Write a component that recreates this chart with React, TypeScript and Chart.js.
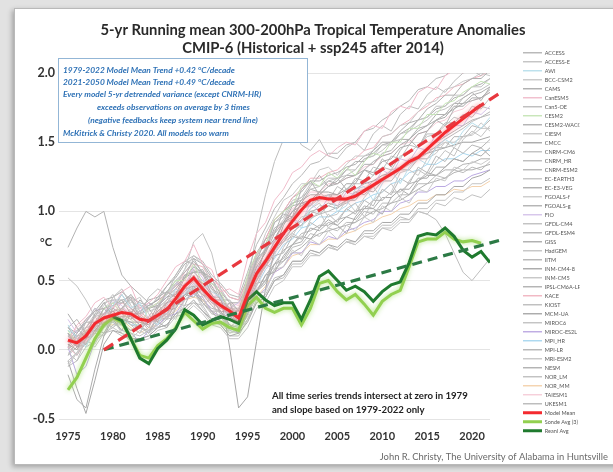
import { useEffect, useRef } from 'react';
import { Chart, registerables } from 'chart.js';

Chart.register(...registerables);

// ---------------- data ----------------
const MODEL_START = 1975;
const MODEL_NAMES = [
  'ACCESS', 'ACCESS-E', 'AWI', 'BCC-CSM2', 'CAMS', 'CanESM5', 'Can5-OE', 'CESM2', 'CESM2-WACCM', 'CIESM',
  'CMCC', 'CNRM-CM6', 'CNRM_HR', 'CNRM-ESM2', 'EC-EARTH3', 'EC-E3-VEG', 'FGOALS-f', 'FGOALS-g', 'FIO', 'GFDL-CM4',
  'GFDL-ESM4', 'GISS', 'HadGEM', 'IITM', 'INM-CM4-8', 'INM-CM5', 'IPSL-CM6A-LR', 'KACE', 'KIOST', 'MCM-UA',
  'MIROC6', 'MIROC-ES2L', 'MPI_HR', 'MPI-LR', 'MRI-ESM2', 'NESM', 'NOR_LM', 'NOR_MM', 'TAIESM1', 'UKESM1',
];
// 5-yr running means, one value per year 1975..2022
const MODEL_RUNS: number[][] = [
  [0.12,0.02,0.10,0.26,0.34,0.24,0.30,0.38,0.22,0.16,0.30,0.42,0.38,0.52,0.66,0.55,0.40,0.26,0.34,0.18,0.44,0.66,0.72,0.92,0.98,0.96,1.16,1.22,1.12,1.18,1.24,1.16,1.22,1.30,1.26,1.38,1.32,1.44,1.52,1.46,1.58,1.66,1.62,1.74,1.82,1.86,1.80,1.90],
  [0.52,0.46,0.36,0.24,0.32,0.40,0.26,0.18,0.12,0.24,0.34,0.22,0.30,0.46,0.42,0.32,0.38,0.18,0.22,0.30,0.36,0.52,0.62,0.58,0.74,0.84,0.80,0.94,1.00,0.88,0.94,1.02,1.06,0.96,1.08,1.14,1.20,1.10,1.22,1.30,1.26,1.36,1.44,1.40,1.52,1.58,1.54,1.62],
  [0.18,0.08,0.02,0.16,0.24,0.32,0.40,0.30,0.34,0.22,0.18,0.32,0.44,0.40,0.52,0.50,0.42,0.38,0.24,0.16,0.34,0.58,0.66,0.68,0.86,0.94,0.88,1.02,1.08,1.12,1.00,1.04,1.16,1.18,1.08,1.20,1.30,1.20,1.32,1.38,1.34,1.46,1.52,1.48,1.58,1.64,1.60,1.68],
  [-0.12,-0.02,0.10,0.24,0.16,0.20,0.30,0.34,0.38,0.26,0.16,0.24,0.38,0.46,0.54,0.38,0.26,0.30,0.34,0.22,0.30,0.46,0.62,0.76,0.78,0.82,0.94,1.02,1.06,0.96,0.98,1.08,1.00,1.10,1.18,1.08,1.14,1.28,1.30,1.26,1.38,1.42,1.50,1.46,1.54,1.56,1.64,1.58],
  [0.26,0.16,0.08,0.18,0.30,0.22,0.14,0.26,0.36,0.30,0.20,0.16,0.30,0.40,0.38,0.46,0.36,0.28,0.18,0.12,0.26,0.42,0.54,0.56,0.68,0.76,0.82,0.80,0.88,0.94,0.90,0.84,0.96,1.04,1.02,0.98,1.10,1.16,1.12,1.22,1.28,1.26,1.32,1.38,1.36,1.42,1.46,1.40],
  [0.06,0.18,0.24,0.34,0.38,0.30,0.42,0.46,0.30,0.34,0.40,0.50,0.60,0.64,0.76,0.62,0.58,0.42,0.44,0.40,0.66,0.84,0.92,1.08,1.16,1.28,1.32,1.40,1.44,1.40,1.46,1.50,1.48,1.58,1.62,1.60,1.72,1.76,1.74,1.86,1.90,1.88,1.98,2.02,2.00,2.08,2.12,2.10],
  [-0.04,0.06,0.20,0.30,0.24,0.38,0.44,0.32,0.26,0.38,0.44,0.40,0.54,0.64,0.62,0.54,0.52,0.36,0.30,0.22,0.48,0.84,1.12,1.36,1.52,1.60,1.48,1.44,1.52,1.40,1.38,1.46,1.50,1.44,1.56,1.62,1.58,1.70,1.76,1.74,1.84,1.90,1.86,1.94,2.00,2.02,1.98,2.06],
  [0.14,0.04,0.14,0.16,0.30,0.34,0.26,0.22,0.16,0.30,0.34,0.40,0.50,0.50,0.62,0.48,0.48,0.42,0.28,0.24,0.54,0.70,0.76,0.94,1.00,1.04,1.18,1.22,1.18,1.28,1.24,1.32,1.26,1.36,1.42,1.40,1.50,1.50,1.60,1.60,1.70,1.70,1.78,1.80,1.86,1.90,1.94,1.92],
  [0.02,0.12,0.20,0.20,0.18,0.30,0.40,0.30,0.24,0.20,0.32,0.38,0.40,0.54,0.56,0.58,0.46,0.36,0.36,0.28,0.48,0.64,0.80,0.84,1.00,1.06,1.08,1.18,1.26,1.18,1.22,1.30,1.36,1.36,1.44,1.50,1.50,1.58,1.64,1.66,1.74,1.78,1.84,1.84,1.92,1.96,1.96,2.02],
  [0.10,0.10,0.02,0.20,0.30,0.36,0.28,0.40,0.28,0.22,0.26,0.36,0.48,0.58,0.68,0.62,0.48,0.44,0.34,0.28,0.50,0.66,0.84,0.96,1.08,1.12,1.20,1.20,1.30,1.32,1.26,1.34,1.40,1.40,1.44,1.54,1.56,1.62,1.64,1.72,1.78,1.80,1.88,1.90,1.94,1.96,2.00,1.98],
  [0.04,0.00,0.12,0.14,0.22,0.28,0.22,0.20,0.20,0.18,0.28,0.34,0.36,0.46,0.54,0.44,0.36,0.36,0.24,0.20,0.44,0.56,0.72,0.80,0.92,0.96,1.06,1.08,1.14,1.14,1.12,1.20,1.20,1.30,1.28,1.36,1.38,1.46,1.48,1.56,1.58,1.66,1.68,1.76,1.76,1.82,1.82,1.88],
  [-0.02,-0.08,0.08,0.12,0.24,0.22,0.18,0.28,0.22,0.14,0.24,0.30,0.36,0.42,0.50,0.42,0.34,0.30,0.28,0.24,0.38,0.56,0.66,0.78,0.84,0.96,1.02,1.04,1.10,1.12,1.08,1.16,1.20,1.20,1.26,1.32,1.30,1.40,1.42,1.48,1.54,1.56,1.62,1.68,1.66,1.76,1.74,1.82],
  [0.05,0.06,0.10,0.16,0.20,0.22,0.24,0.24,0.22,0.22,0.25,0.29,0.34,0.40,0.44,0.40,0.36,0.32,0.30,0.28,0.40,0.50,0.60,0.70,0.78,0.85,0.90,0.95,0.98,1.00,1.03,1.06,1.10,1.14,1.18,1.22,1.26,1.30,1.34,1.38,1.42,1.47,1.52,1.56,1.60,1.65,1.68,1.70],
  [0.16,0.08,0.04,0.14,0.16,0.24,0.30,0.24,0.18,0.20,0.22,0.30,0.34,0.40,0.46,0.40,0.32,0.26,0.24,0.20,0.34,0.50,0.62,0.72,0.80,0.88,0.94,1.00,1.02,1.06,1.04,1.08,1.14,1.12,1.18,1.22,1.28,1.30,1.36,1.40,1.46,1.50,1.54,1.58,1.62,1.66,1.68,1.72],
  [0.00,0.10,0.12,0.24,0.26,0.28,0.30,0.36,0.26,0.28,0.30,0.42,0.48,0.54,0.56,0.50,0.44,0.36,0.30,0.30,0.44,0.62,0.74,0.86,0.94,1.06,1.10,1.16,1.18,1.22,1.24,1.26,1.30,1.38,1.40,1.44,1.50,1.52,1.58,1.62,1.66,1.72,1.74,1.78,1.82,1.86,1.88,1.92],
  [0.12,0.02,0.12,0.18,0.26,0.32,0.36,0.26,0.26,0.30,0.32,0.38,0.44,0.52,0.60,0.56,0.44,0.40,0.28,0.28,0.42,0.60,0.70,0.84,0.92,1.00,1.08,1.12,1.12,1.18,1.20,1.24,1.26,1.30,1.36,1.40,1.42,1.48,1.52,1.58,1.62,1.66,1.70,1.74,1.78,1.80,1.82,1.86],
  [-0.10,-0.02,0.06,0.04,0.16,0.22,0.12,0.08,0.14,0.10,0.20,0.26,0.22,0.36,0.42,0.30,0.22,0.26,0.12,0.16,0.24,0.40,0.42,0.58,0.60,0.72,0.68,0.80,0.76,0.86,0.80,0.90,0.86,0.96,0.92,1.04,1.00,1.10,1.06,1.16,1.14,1.24,1.22,1.32,1.30,1.36,1.34,1.38],
  [0.74,0.88,1.00,0.96,1.00,0.74,0.54,0.46,0.40,0.34,0.30,0.36,0.40,0.46,0.52,0.48,0.40,0.32,0.26,0.22,0.32,0.42,0.50,0.58,0.64,0.70,0.74,0.80,0.84,0.86,0.88,0.90,0.92,0.96,1.00,1.02,1.06,1.08,1.12,1.16,1.20,1.22,1.24,1.28,1.30,1.30,1.32,1.34],
  [0.22,0.12,0.20,0.30,0.26,0.36,0.32,0.24,0.28,0.34,0.30,0.40,0.48,0.46,0.60,0.52,0.38,0.40,0.30,0.34,0.42,0.60,0.62,0.80,0.82,0.94,0.92,1.06,1.00,1.10,1.04,1.14,1.12,1.22,1.18,1.30,1.26,1.38,1.36,1.46,1.44,1.56,1.54,1.62,1.62,1.72,1.70,1.76],
  [0.04,-0.04,0.08,0.18,0.16,0.22,0.28,0.24,0.18,0.22,0.20,0.34,0.42,0.44,0.58,0.46,0.38,0.38,0.26,0.20,0.46,0.54,0.74,0.78,0.92,0.94,1.06,1.04,1.14,1.08,1.18,1.14,1.24,1.22,1.32,1.30,1.40,1.38,1.48,1.46,1.56,1.56,1.64,1.64,1.70,1.68,1.76,1.74],
  [0.10,0.02,0.04,0.14,0.12,0.24,0.20,0.14,0.18,0.12,0.24,0.22,0.34,0.32,0.46,0.34,0.28,0.28,0.16,0.22,0.30,0.48,0.50,0.68,0.70,0.82,0.80,0.92,0.88,0.98,0.92,1.02,0.98,1.08,1.04,1.16,1.12,1.24,1.20,1.32,1.28,1.40,1.36,1.46,1.42,1.48,1.46,1.52],
  [-0.18,-0.36,-0.42,-0.14,0.10,0.22,0.18,0.14,0.16,0.20,0.22,0.28,0.30,0.40,0.42,0.34,0.28,0.20,0.18,0.12,0.28,0.42,0.48,0.62,0.66,0.76,0.78,0.88,0.86,0.92,0.90,0.96,0.94,1.02,1.02,1.10,1.10,1.16,1.16,1.24,1.24,1.32,1.32,1.38,1.36,1.42,1.40,1.46],
  [0.10,0.14,0.16,0.26,0.26,0.34,0.34,0.36,0.28,0.30,0.32,0.42,0.46,0.58,0.78,0.84,0.70,0.44,0.34,0.34,0.48,0.68,0.76,0.92,0.96,1.08,1.10,1.20,1.18,1.24,1.24,1.30,1.30,1.38,1.40,1.48,1.48,1.56,1.58,1.66,1.68,1.76,1.76,1.84,1.84,1.90,1.90,1.96],
  [0.16,0.22,0.12,0.20,0.24,0.24,0.18,0.28,0.22,0.22,0.22,0.30,0.34,0.44,0.46,0.46,0.36,0.32,0.24,0.24,0.36,0.54,0.60,0.74,0.78,0.88,0.90,1.00,0.98,1.04,1.02,1.08,1.08,1.16,1.14,1.22,1.22,1.30,1.30,1.38,1.38,1.46,1.46,1.54,1.54,1.62,1.60,1.66],
  [-0.08,-0.28,-0.46,-0.22,0.04,0.14,0.12,0.08,0.08,0.10,0.16,0.18,0.26,0.30,0.36,0.28,0.22,0.18,0.10,0.12,0.20,0.34,0.38,0.50,0.54,0.64,0.64,0.72,0.70,0.76,0.74,0.80,0.78,0.86,0.86,0.92,0.92,0.98,0.98,1.06,1.06,1.12,1.12,1.18,1.18,1.24,1.26,1.30],
  [0.00,0.06,0.08,0.02,0.12,0.16,0.12,0.06,0.06,0.08,0.14,0.16,0.24,0.26,0.32,0.26,0.18,0.16,0.08,0.08,0.16,0.30,0.34,0.46,0.50,0.60,0.60,0.68,0.68,0.74,0.72,0.78,0.76,0.82,0.82,0.88,0.88,0.94,0.94,1.02,1.02,1.08,1.08,1.14,1.14,1.20,1.20,1.24],
  [0.06,0.14,0.20,0.28,0.30,0.32,0.34,0.40,0.32,0.30,0.38,0.42,0.50,0.56,0.64,0.56,0.48,0.42,0.34,0.34,0.46,0.64,0.72,0.88,0.92,1.04,1.06,1.16,1.14,1.22,1.20,1.26,1.26,1.34,1.34,1.42,1.44,1.52,1.52,1.60,1.62,1.70,1.70,1.78,1.78,1.84,1.86,1.90],
  [0.02,-0.04,0.06,0.12,0.24,0.26,0.34,0.30,0.24,0.30,0.34,0.42,0.46,0.56,0.62,0.60,0.50,0.46,0.38,0.36,0.50,0.68,0.80,0.94,1.00,1.10,1.16,1.24,1.24,1.28,1.30,1.36,1.38,1.44,1.46,1.54,1.56,1.62,1.66,1.72,1.76,1.82,1.84,1.90,1.92,1.96,1.98,2.02],
  [0.12,0.06,0.14,0.16,0.12,0.22,0.24,0.18,0.16,0.12,0.20,0.24,0.32,0.36,0.42,0.34,0.26,0.24,0.16,0.18,0.28,0.44,0.50,0.62,0.64,0.74,0.76,0.84,0.82,0.88,0.86,0.92,0.92,1.00,0.98,1.06,1.06,1.12,1.12,1.20,1.20,1.26,1.24,1.30,1.28,1.32,1.30,1.36],
  [0.10,0.04,0.12,0.20,0.26,0.30,0.26,0.22,0.28,0.32,0.36,0.40,0.46,0.52,0.56,0.56,0.52,0.40,0.02,-0.42,-0.34,0.06,0.44,0.72,0.90,1.00,1.04,1.08,1.08,1.12,1.12,1.16,1.16,1.20,1.22,1.26,1.28,1.32,1.36,1.40,1.42,1.44,1.46,1.48,1.50,1.50,1.52,1.54],
  [-0.08,-0.02,0.04,0.12,0.10,0.18,0.18,0.12,0.10,0.14,0.16,0.22,0.24,0.32,0.34,0.32,0.22,0.20,0.12,0.14,0.22,0.36,0.40,0.52,0.54,0.64,0.64,0.72,0.70,0.76,0.72,0.78,0.76,0.82,0.80,0.88,0.86,0.92,0.92,1.00,0.98,1.06,1.04,1.10,1.08,1.12,1.10,1.16],
  [0.02,-0.18,-0.12,0.06,0.18,0.20,0.14,0.12,0.06,0.14,0.18,0.24,0.26,0.36,0.40,0.38,0.28,0.24,0.14,0.12,0.26,0.38,0.44,0.56,0.60,0.70,0.70,0.78,0.76,0.82,0.80,0.86,0.88,0.92,0.94,1.00,1.00,1.06,1.08,1.14,1.14,1.18,1.18,1.22,1.22,1.26,1.28,1.30],
  [0.14,0.10,0.04,0.12,0.18,0.26,0.22,0.18,0.18,0.20,0.26,0.26,0.36,0.40,0.48,0.42,0.34,0.32,0.22,0.20,0.36,0.46,0.58,0.66,0.76,0.80,0.88,0.90,0.96,0.96,1.00,1.00,1.06,1.08,1.12,1.14,1.20,1.22,1.28,1.30,1.34,1.34,1.38,1.38,1.42,1.40,1.44,1.44],
  [-0.04,0.02,0.08,0.12,0.20,0.16,0.22,0.20,0.16,0.14,0.22,0.26,0.34,0.38,0.44,0.36,0.30,0.28,0.18,0.16,0.32,0.42,0.54,0.62,0.72,0.76,0.84,0.86,0.90,0.90,0.94,0.96,1.00,1.02,1.08,1.08,1.14,1.14,1.20,1.22,1.26,1.26,1.30,1.30,1.34,1.35,1.38,1.38],
  [0.06,0.10,0.16,0.18,0.24,0.26,0.22,0.30,0.26,0.20,0.26,0.34,0.38,0.48,0.50,0.44,0.36,0.34,0.26,0.24,0.42,0.52,0.66,0.74,0.84,0.88,0.96,0.98,1.04,1.04,1.08,1.08,1.14,1.16,1.22,1.24,1.30,1.32,1.38,1.40,1.44,1.46,1.50,1.50,1.54,1.55,1.60,1.60],
  [0.16,0.12,0.22,0.28,0.36,0.38,0.42,0.36,0.30,0.36,0.38,0.46,0.52,0.62,0.66,0.62,0.52,0.46,0.38,0.36,0.52,0.70,0.80,0.94,1.00,1.10,1.14,1.22,1.22,1.26,1.28,1.32,1.34,1.40,1.42,1.48,1.50,1.56,1.60,1.66,1.68,1.74,1.76,1.82,1.84,1.90,1.92,1.96],
  [-0.12,-0.08,0.02,0.06,0.12,0.14,0.10,0.08,0.08,0.10,0.16,0.18,0.26,0.28,0.34,0.28,0.20,0.18,0.10,0.10,0.22,0.34,0.38,0.50,0.52,0.62,0.62,0.70,0.68,0.74,0.72,0.78,0.78,0.84,0.84,0.90,0.90,0.96,0.94,1.00,0.98,0.94,0.84,0.70,0.56,0.50,0.58,0.66],
  [0.04,0.00,0.08,0.12,0.18,0.18,0.22,0.16,0.12,0.16,0.18,0.24,0.28,0.36,0.38,0.36,0.28,0.24,0.18,0.16,0.26,0.38,0.46,0.56,0.60,0.68,0.70,0.76,0.76,0.80,0.80,0.84,0.86,0.90,0.92,0.96,0.98,1.02,1.04,1.08,1.08,1.12,1.12,1.16,1.15,1.18,1.18,1.22],
  [0.08,0.16,0.22,0.28,0.30,0.30,0.34,0.38,0.30,0.30,0.32,0.40,0.44,0.54,0.58,0.54,0.46,0.42,0.34,0.32,0.46,0.62,0.72,0.86,0.92,1.02,1.06,1.14,1.14,1.20,1.20,1.24,1.26,1.32,1.34,1.40,1.42,1.48,1.50,1.56,1.58,1.64,1.66,1.72,1.74,1.80,1.82,1.86],
  [0.12,0.06,0.16,0.24,0.34,0.36,0.36,0.38,0.34,0.32,0.36,0.46,0.54,0.64,0.68,0.64,0.54,0.48,0.40,0.38,0.56,0.76,0.88,1.02,1.10,1.20,1.26,1.34,1.36,1.42,1.42,1.48,1.50,1.58,1.60,1.66,1.70,1.76,1.80,1.88,1.90,1.96,1.98,2.04,2.04,2.08,2.08,2.12],
];
const MODEL_COLORS = [
  '#b4b4b4', '#c2c2c2', '#b9dfec', '#c8c8c8', '#adadad', '#f0bccb', '#bdbdbd', '#c6e5b6', '#b0b0b0', '#c9c9c9',
  '#a9a9a9', '#c0c0c0', '#bababa', '#b6b6b6', '#c4c4c4', '#aeaeae', '#cbcbcb', '#b2b2b2', '#d5c3ea', '#bfbfbf',
  '#b7b7b7', '#acacac', '#c3c3c3', '#b5b5b5', '#a8a8a8', '#c5c5c5', '#b1b1b1', '#f1b4c0', '#bcbcbc', '#a7a7a7',
  '#c1c1c1', '#bba9e2', '#a9d7ef', '#b3b3b3', '#c7c7c7', '#afafaf', '#bebebe', '#f4d2ad', '#f6cdd8', '#b8b8b8',
];

const MEAN_START = 1975;
const MODEL_MEAN = [
  0.07, 0.05, 0.10, 0.19, 0.23, 0.25, 0.27, 0.26, 0.22, 0.21,
  0.25, 0.29, 0.37, 0.46, 0.52, 0.44, 0.37, 0.32, 0.28, 0.23,
  0.40, 0.55, 0.64, 0.74, 0.84, 0.93, 1.01, 1.08, 1.10, 1.09,
  1.09, 1.09, 1.11, 1.15, 1.19, 1.23, 1.27, 1.31, 1.36, 1.39,
  1.45, 1.51, 1.57, 1.62, 1.67, 1.72, 1.77,
];
const SONDE_START = 1975;
const SONDE_AVG = [
  -0.29, -0.20, -0.06, 0.08, 0.18, 0.23, 0.20, 0.08, -0.04, -0.06,
  0.03, 0.08, 0.16, 0.27, 0.21, 0.15, 0.19, 0.20, 0.16, 0.14,
  0.32, 0.38, 0.30, 0.27, 0.30, 0.30, 0.18, 0.30, 0.48, 0.50,
  0.42, 0.36, 0.40, 0.33, 0.25, 0.35, 0.40, 0.43, 0.60, 0.78,
  0.80, 0.80, 0.85, 0.80, 0.78, 0.79, 0.77,
];
const REANL_START = 1980;
const REANL_AVG = [
  0.24, 0.21, 0.08, -0.06, -0.10, 0.01, 0.07, 0.15, 0.29, 0.25,
  0.18, 0.21, 0.24, 0.22, 0.19, 0.36, 0.42, 0.36, 0.32, 0.34,
  0.34, 0.22, 0.36, 0.53, 0.57, 0.50, 0.43, 0.46, 0.42, 0.35,
  0.42, 0.47, 0.49, 0.63, 0.82, 0.84, 0.83, 0.88, 0.82, 0.72,
  0.67, 0.71, 0.63,
];
const TREND_YEARS = [1979, 2023];
const MEAN_TREND = [0, 1.85];
const OBS_TREND = [0, 0.79];

const X_TICKS = [1975, 1980, 1985, 1990, 1995, 2000, 2005, 2010, 2015, 2020];
const Y_TICKS = [-0.5, 0, 0.5, 1, 1.5, 2];

const TITLE_LINES = [
  '5-yr Running mean 300-200hPa Tropical Temperature Anomalies',
  'CMIP-6 (Historical + ssp245 after 2014)',
];
const BOX_LINES = [
  '1979-2022 Model Mean Trend +0.42 °C/decade',
  '2021-2050 Model Mean Trend +0.49 °C/decade',
  'Every model 5-yr detrended variance (except CNRM-HR)',
  'exceeds observations on average by 3 times',
  '(negative feedbacks keep system near trend line)',
  'McKitrick & Christy 2020. All models too warm',
];
const NOTE_LINES = [
  'All time series trends intersect at zero in 1979',
  'and slope based on 1979-2022 only',
];
const CREDIT = 'John R. Christy, The University of Alabama in Huntsville';
const UNIT = '°C';

// ---------------- helpers ----------------
const series = (start: number, vals: number[]) => vals.map((v, i) => ({ x: start + i, y: v }));
const pairs = (xs: number[], ys: number[]) => xs.map((x, i) => ({ x, y: ys[i] }));

const FONT = 'Lato, "Open Sans", sans-serif';

const glowPlugin = {
  id: 'glow',
  beforeDatasetDraw(chart: any, args: any) {
    const ds = chart.data.datasets[args.index];
    if (ds.glowColor) {
      chart.ctx.save();
      chart.ctx.shadowColor = ds.glowColor;
      chart.ctx.shadowBlur = ds.glowBlur || 5;
    }
  },
  afterDatasetDraw(chart: any, args: any) {
    const ds = chart.data.datasets[args.index];
    if (ds.glowColor) chart.ctx.restore();
  },
};

const legendPlacer = {
  id: 'legendPlacer',
  afterLayout(chart: any) {
    const lg = chart.legend;
    if (!lg) return;
    const w = lg.width;
    const h = lg.height;
    lg.left = chart.chartArea.right + 29.5;
    lg.right = lg.left + w;
    lg.top = chart.chartArea.top - 26.5;
    lg.bottom = lg.top + h;
  },
};

const textPlugin = {
  id: 'texts',
  afterDatasetsDraw(chart: any) {
    const ctx = chart.ctx;
    ctx.save();
    ctx.fillStyle = '#ffffff';
    ctx.fillRect(58.5, 58.5, 249, 84);
    ctx.strokeStyle = '#93b6d6';
    ctx.lineWidth = 1;
    ctx.strokeRect(58.5, 58.5, 249, 84);
    ctx.fillStyle = '#2f72b6';
    ctx.font = `italic bold 8.4px ${FONT}`;
    ctx.textBaseline = 'middle';
    ctx.textAlign = 'left';
    const indent = [0, 0, 0, 34, 25, 0];
    const ys = [70, 82, 94.5, 107.5, 120.5, 133.5];
    BOX_LINES.forEach((t, i) => ctx.fillText(t, 63 + indent[i], ys[i]));
    ctx.restore();
  },
  afterDraw(chart: any) {
    const ctx = chart.ctx;
    ctx.save();
    ctx.textBaseline = 'middle';
    ctx.textAlign = 'center';
    ctx.fillStyle = '#2a2a2a';
    ctx.font = `bold 14.8px ${FONT}`;
    ctx.fillText(TITLE_LINES[0], 313, 30);
    ctx.fillText(TITLE_LINES[1], 313, 48);
    ctx.font = `bold 11px ${FONT}`;
    ctx.fillStyle = '#333';
    ctx.fillText(UNIT, 46, 242);
    ctx.textAlign = 'left';
    ctx.fillStyle = '#222';
    ctx.font = `bold 9.6px ${FONT}`;
    ctx.fillText(NOTE_LINES[0], 272, 396);
    ctx.fillText(NOTE_LINES[1], 272, 410);
    ctx.textAlign = 'right';
    ctx.fillStyle = '#6a6a6a';
    ctx.font = `9.4px ${FONT}`;
    ctx.fillText(CREDIT, 608, 457);
    ctx.restore();
  },
};

export default function App() {
  const ref = useRef<HTMLCanvasElement | null>(null);

  useEffect(() => {
    const canvas = ref.current;
    if (!canvas) return;

    const modelSets = MODEL_RUNS.map((vals, i) => ({
      label: MODEL_NAMES[i],
      data: series(MODEL_START, vals),
      borderColor: MODEL_COLORS[i],
      backgroundColor: MODEL_COLORS[i],
      borderWidth: 1,
      pointRadius: 0,
      order: 10,
    }));

    const datasets: any[] = [
      ...modelSets,
      {
        label: 'Model Mean',
        data: series(MEAN_START, MODEL_MEAN),
        borderColor: '#f42a2f',
        backgroundColor: '#f42a2f',
        borderWidth: 3,
        pointRadius: 0,
        order: 2,
        glowColor: 'rgba(255,120,130,0.9)',
        glowBlur: 5,
      },
      {
        label: 'Sonde Avg (3)',
        data: series(SONDE_START, SONDE_AVG),
        borderColor: '#92d050',
        backgroundColor: '#92d050',
        borderWidth: 3,
        pointRadius: 0,
        order: 4,
        glowColor: 'rgba(170,225,120,0.9)',
        glowBlur: 5,
      },
      {
        label: 'Reanl Avg',
        data: series(REANL_START, REANL_AVG),
        borderColor: '#1f7a2e',
        backgroundColor: '#1f7a2e',
        borderWidth: 3,
        pointRadius: 0,
        order: 3,
      },
      {
        label: 'Model Mean trend',
        isTrend: true,
        data: pairs(TREND_YEARS, MEAN_TREND),
        borderColor: '#e8383f',
        backgroundColor: '#e8383f',
        borderWidth: 3.2,
        borderDash: [11, 6],
        pointStyle: 'triangle',
        pointRadius: [0, 6.5],
        pointRotation: [0, 57],
        pointBackgroundColor: '#e8383f',
        pointBorderColor: '#e8383f',
        pointBorderWidth: 1,
        clip: false,
        order: 1,
      },
      {
        label: 'Obs trend',
        isTrend: true,
        data: pairs(TREND_YEARS, OBS_TREND),
        borderColor: '#2c7a45',
        backgroundColor: '#2c7a45',
        borderWidth: 3.2,
        borderDash: [10, 6],
        pointStyle: 'triangle',
        pointRadius: [0, 6.5],
        pointRotation: [0, 74.5],
        pointBackgroundColor: '#2c7a45',
        pointBorderColor: '#2c7a45',
        pointBorderWidth: 1,
        clip: false,
        order: 1,
      },
    ];

    const chart = new Chart(canvas, {
      type: 'line',
      data: { datasets },
      options: {
        animation: false,
        responsive: false,
        events: [],
        layout: { padding: { top: 73, left: 12, right: 63, bottom: 0 } },
        elements: { line: { tension: 0 }, point: { radius: 0, hoverRadius: 0 } },
        scales: {
          x: {
            type: 'linear',
            min: 1974,
            max: 2022,
            afterBuildTicks: (s: any) => {
              s.ticks = X_TICKS.map((v) => ({ value: v }));
            },
            afterFit: (s: any) => {
              s.height = 53;
            },
            ticks: {
              autoSkip: false,
              maxRotation: 0,
              padding: 11,
              color: '#333',
              font: { family: FONT, size: 11, weight: 'bold' },
              callback: (v: any) => String(v),
            },
            grid: { display: false, drawTicks: false },
            border: { display: false },
          },
          y: {
            type: 'linear',
            min: -0.5,
            max: 2,
            afterBuildTicks: (s: any) => {
              s.ticks = Y_TICKS.map((v) => ({ value: v }));
            },
            afterFit: (s: any) => {
              s.width = 47;
            },
            ticks: {
              padding: 4,
              color: '#333',
              font: { family: FONT, size: 12.5, weight: 'bold' },
              callback: (v: any) => Number(v).toFixed(1),
            },
            grid: { color: '#e4e4e4', drawTicks: false, lineWidth: 1 },
            border: { display: false },
          },
        },
        plugins: {
          title: { display: false },
          tooltip: { enabled: false },
          legend: {
            position: 'right',
            align: 'start',
            maxWidth: 60,
            labels: {
              boxWidth: 19,
              boxHeight: 0,
              padding: 3.5,
              color: '#555',
              font: { family: FONT, size: 5.5 },
              filter: (item: any, data: any) => !data.datasets[item.datasetIndex].isTrend,
              sort: (a: any, b: any) => a.datasetIndex - b.datasetIndex,
            },
          },
        },
      } as any,
      plugins: [glowPlugin, legendPlacer, textPlugin],
    });

    return () => chart.destroy();
  }, []);

  return (
    <div
      style={{
        position: 'fixed',
        left: 0,
        top: 0,
        width: 613,
        height: 472,
        background: '#e2e2e2',
        overflow: 'hidden',
      }}
    >
      <div
        style={{
          position: 'absolute',
          left: 14,
          top: 8,
          width: 606,
          height: 455,
          background: '#ffffff',
          border: '1px solid #b9b9b9',
          boxShadow: '-2px 2px 5px rgba(0,0,0,0.28)',
        }}
      />
      <canvas
        ref={ref}
        width={613}
        height={472}
        style={{ position: 'absolute', left: 0, top: 0, width: 613, height: 472 }}
      />
    </div>
  );
}
